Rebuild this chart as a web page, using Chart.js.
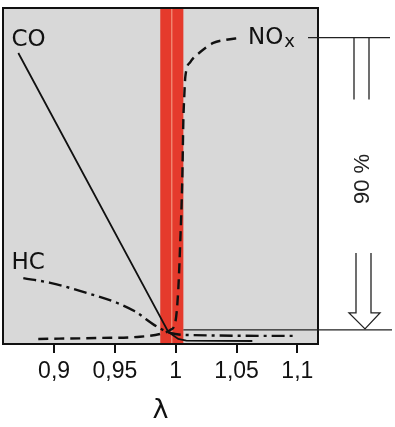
<!DOCTYPE html>
<html>
<head>
<meta charset="utf-8">
<script src="https://cdn.jsdelivr.net/npm/chart.js@4"></script>
<style>
  body { margin: 0; background: #fff; }
  canvas { display: block; }
</style>
</head>
<body>
<canvas id="lambdaChart" width="395" height="427"></canvas>
<script>
// x axis: lambda, y axis: emission share in % of plot height (no ticks shown)
var lambdaRange = [0.858, 1.117];
var tickValues = [0.9, 0.95, 1, 1.05, 1.1];

var coLambda = [0.8706, 0.9939, 1.0021, 1.0087, 1.063];
var coValues = [86.6, 3.6, 1.5, 1.0, 0.9];

var hcLambda = [0.8747, 0.8969, 0.9240, 0.9520, 0.9660, 0.9849, 0.9956, 1.0079, 1.1000];
var hcValues = [19.6, 18.2, 15.5, 12.2, 9.8, 5.1, 3.3, 2.7, 2.4];

var noxLambda = [0.8870, 0.9380, 0.9684, 0.9873, 0.9956, 0.9997, 1.0021, 1.0038, 1.0054, 1.0063, 1.0071, 1.0079, 1.0120, 1.0202, 1.0309, 1.0408, 1.0531];
var noxValues = [1.5, 1.8, 2.1, 3.0, 4.2, 6.5, 16.1, 31.0, 48.8, 66.7, 74.1, 79.5, 83.9, 86.9, 89.6, 90.5, 91.1];

var stoichBand = [0.9873, 1.0063];
var stoichLine = 0.9964;
var convLevels = [91.2, 4.2]; // 90 % conversion window

function pts(xs, ys) {
    return xs.map(function (x, i) { return { x: x, y: ys[i] }; });
}

var decorPlugin = {
    id: 'decor',
    beforeDatasetsDraw: function (chart) {
        var ctx = chart.ctx, a = chart.chartArea, xs = chart.scales.x;
        ctx.save();
        ctx.fillStyle = '#d8d8d8';
        ctx.fillRect(a.left, a.top, a.right - a.left, a.bottom - a.top);
        var b0 = xs.getPixelForValue(stoichBand[0]);
        var b1 = xs.getPixelForValue(stoichBand[1]);
        ctx.fillStyle = '#e53a2c';
        ctx.fillRect(b0, a.top, b1 - b0, a.bottom - a.top);
        var sl = xs.getPixelForValue(stoichLine);
        ctx.strokeStyle = '#f5a58c';
        ctx.lineWidth = 1;
        ctx.beginPath();
        ctx.moveTo(sl + 0.5, a.top);
        ctx.lineTo(sl + 0.5, a.bottom);
        ctx.stroke();
        ctx.restore();
    },
    afterDatasetsDraw: function (chart) {
        var ctx = chart.ctx, a = chart.chartArea, xs = chart.scales.x, ys = chart.scales.y;
        ctx.save();
        // frame
        ctx.strokeStyle = '#111';
        ctx.lineWidth = 2;
        ctx.strokeRect(a.left, a.top, a.right - a.left, a.bottom - a.top);

        // 90 % window lines
        var yTop = ys.getPixelForValue(convLevels[0]);
        var yBot = ys.getPixelForValue(convLevels[1]);
        ctx.strokeStyle = '#222';
        ctx.lineWidth = 1.3;
        ctx.beginPath();
        ctx.moveTo(a.right - 10, yTop);
        ctx.lineTo(a.right + 72, yTop);
        ctx.moveTo(xs.getPixelForValue(stoichBand[1]), yBot);
        ctx.lineTo(a.right + 74, yBot);
        // upper double line
        ctx.moveTo(a.right + 36, yTop);
        ctx.lineTo(a.right + 36, yTop + 62);
        ctx.moveTo(a.right + 51, yTop);
        ctx.lineTo(a.right + 51, yTop + 62);
        ctx.stroke();
        // hollow arrow down
        ctx.beginPath();
        ctx.moveTo(a.right + 38, 253);
        ctx.lineTo(a.right + 38, yBot - 17);
        ctx.lineTo(a.right + 31, yBot - 17);
        ctx.lineTo(a.right + 47, yBot - 1);
        ctx.lineTo(a.right + 62, yBot - 17);
        ctx.lineTo(a.right + 53, yBot - 17);
        ctx.lineTo(a.right + 53, 253);
        ctx.stroke();

        // 90 %
        ctx.fillStyle = '#222';
        ctx.font = '22px "Liberation Sans", sans-serif';
        ctx.textAlign = 'center';
        ctx.textBaseline = 'middle';
        ctx.translate(a.right + 45, 179);
        ctx.rotate(-Math.PI / 2);
        ctx.fillText('90 %', 0, 0);
        ctx.restore();

        // series labels
        ctx.save();
        ctx.fillStyle = '#111';
        ctx.textBaseline = 'middle';
        ctx.textAlign = 'left';
        ctx.font = '23px "DejaVu Sans", sans-serif';
        ctx.fillText('CO', xs.getPixelForValue(0.865), ys.getPixelForValue(90.5));
        ctx.fillText('HC', xs.getPixelForValue(0.865), ys.getPixelForValue(24.2));
        var nx = xs.getPixelForValue(1.0594), ny = ys.getPixelForValue(91.2);
        ctx.fillText('NO', nx, ny);
        var w = ctx.measureText('NO').width;
        ctx.font = '18px "DejaVu Sans", sans-serif';
        ctx.fillText('x', nx + w + 1, ny + 5);
        ctx.restore();
    }
};

new Chart(document.getElementById('lambdaChart'), {
    type: 'line',
    data: {
        datasets: [{
            label: 'CO',
            data: pts(coLambda, coValues),
            borderColor: '#111',
            borderWidth: 1.8,
            pointRadius: 0,
            tension: 0
        }, {
            label: 'HC',
            data: pts(hcLambda, hcValues),
            borderColor: '#111',
            borderWidth: 2.4,
            borderDash: [13, 5, 3, 5],
            pointRadius: 0,
            cubicInterpolationMode: 'monotone'
        }, {
            label: 'NOx',
            data: pts(noxLambda, noxValues),
            borderColor: '#111',
            borderWidth: 2.4,
            borderDash: [10, 6],
            pointRadius: 0,
            cubicInterpolationMode: 'monotone'
        }]
    },
    options: {
        responsive: false,
        animation: false,
        devicePixelRatio: 1,
        layout: { padding: { left: 3, right: 77, top: 8, bottom: 0 } },
        plugins: { legend: { display: false }, tooltip: { enabled: false } },
        scales: {
            x: {
                type: 'linear',
                min: lambdaRange[0],
                max: lambdaRange[1],
                afterBuildTicks: function (s) {
                    s.ticks = tickValues.map(function (v) { return { value: v }; });
                },
                afterFit: function (s) { s.height = 83; },
                border: { display: false },
                grid: {
                    drawOnChartArea: false,
                    drawTicks: true,
                    tickLength: 9,
                    color: '#111',
                    lineWidth: 2
                },
                ticks: {
                    color: '#111',
                    padding: 5,
                    maxRotation: 0,
                    font: { family: '"Liberation Sans", sans-serif', size: 23 },
                    callback: function (v) { return String(v).replace('.', ','); }
                },
                title: {
                    display: true,
                    text: 'λ',
                    color: '#111',
                    font: { family: '"DejaVu Sans", sans-serif', size: 27 },
                    padding: { top: 0, bottom: 0 }
                }
            },
            y: {
                display: false,
                min: 0,
                max: 100
            }
        }
    },
    plugins: [decorPlugin]
});
</script>
</body>
</html>
